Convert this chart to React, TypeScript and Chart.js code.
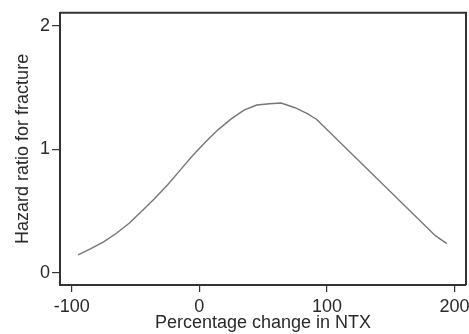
import React, { useEffect, useRef } from "react";
import { Chart, registerables } from "chart.js";

Chart.register(...registerables);

const xValues = [-95, -85, -75, -65, -55, -45, -35, -25, -15, -5, 5, 15, 25, 35, 45, 55, 64, 75, 85, 92, 185, 194];
const hazardRatio = [0.145, 0.195, 0.25, 0.32, 0.4, 0.5, 0.6, 0.71, 0.83, 0.95, 1.06, 1.16, 1.245, 1.315, 1.357, 1.367, 1.373, 1.335, 1.285, 1.24, 0.3, 0.236];
const xTicks = [-100, 0, 100, 200];
const yTicks = [0, 1, 2];
const xTitle = "Percentage change in NTX";
const yTitle = "Hazard ratio for fracture";

const AXIS = "#333333";
const TEXT = "#2a2a2a";
const FONT = "'Liberation Sans', Arial, sans-serif";

const framePlugin = {
  id: "frame",
  afterDraw(chart: any) {
    const { ctx, chartArea } = chart;
    ctx.save();
    ctx.strokeStyle = AXIS;
    ctx.lineWidth = 2;
    ctx.beginPath();
    ctx.moveTo(chartArea.left, chartArea.top);
    ctx.lineTo(chartArea.right, chartArea.top);
    ctx.lineTo(chartArea.right, chartArea.bottom);
    ctx.stroke();
    ctx.restore();
  },
};

export default function App() {
  const ref = useRef<HTMLCanvasElement>(null);
  useEffect(() => {
    if (!ref.current) return;
    const chart = new Chart(ref.current, {
      type: "line",
      data: {
        datasets: [
          {
            data: xValues.map((x, i) => ({ x, y: hazardRatio[i] })),
            borderColor: "#767676",
            borderWidth: 1.4,
            pointRadius: 0,
            tension: 0,
            fill: false,
          },
        ],
      },
      plugins: [framePlugin],
      options: {
        animation: false,
        responsive: false,
        maintainAspectRatio: false,
        layout: { padding: { top: 12, right: 3, left: 0, bottom: 0 } },
        plugins: { legend: { display: false }, tooltip: { enabled: false } },
        scales: {
          x: {
            type: "linear",
            min: -109.2,
            max: 209,
            afterBuildTicks: (s: any) => {
              s.ticks = xTicks.map((v) => ({ value: v }));
            },
            afterFit: (s: any) => {
              s.height = 49;
              s.paddingLeft = 0;
              s.paddingRight = 0;
            },
            grid: { drawOnChartArea: false, drawTicks: true, tickLength: 7, color: AXIS, lineWidth: 1.2 },
            border: { display: true, color: AXIS, width: 2 },
            ticks: { color: TEXT, font: { family: FONT, size: 18 }, padding: 4, maxRotation: 0 },
            title: { display: true, text: xTitle, color: TEXT, font: { family: FONT, size: 18 }, padding: { top: 0, bottom: 0 } },
          },
          y: {
            type: "linear",
            min: -0.099,
            max: 2.103,
            afterBuildTicks: (s: any) => {
              s.ticks = yTicks.map((v) => ({ value: v }));
            },
            afterFit: (s: any) => {
              s.width = 60;
            },
            grid: { drawOnChartArea: false, drawTicks: true, tickLength: 8, color: AXIS, lineWidth: 1.2 },
            border: { display: true, color: AXIS, width: 2 },
            ticks: { color: TEXT, font: { family: FONT, size: 18 }, padding: 2 },
            title: { display: true, text: yTitle, color: TEXT, font: { family: FONT, size: 18 }, padding: { top: 12, bottom: 0 } },
          },
        },
      },
    });
    return () => chart.destroy();
  }, []);
  return (
    <div style={{ position: "fixed", left: 0, top: 0, width: 469, height: 334, background: "#fff" }}>
      <canvas ref={ref} width={469} height={334} style={{ width: 469, height: 334 }} />
    </div>
  );
}
